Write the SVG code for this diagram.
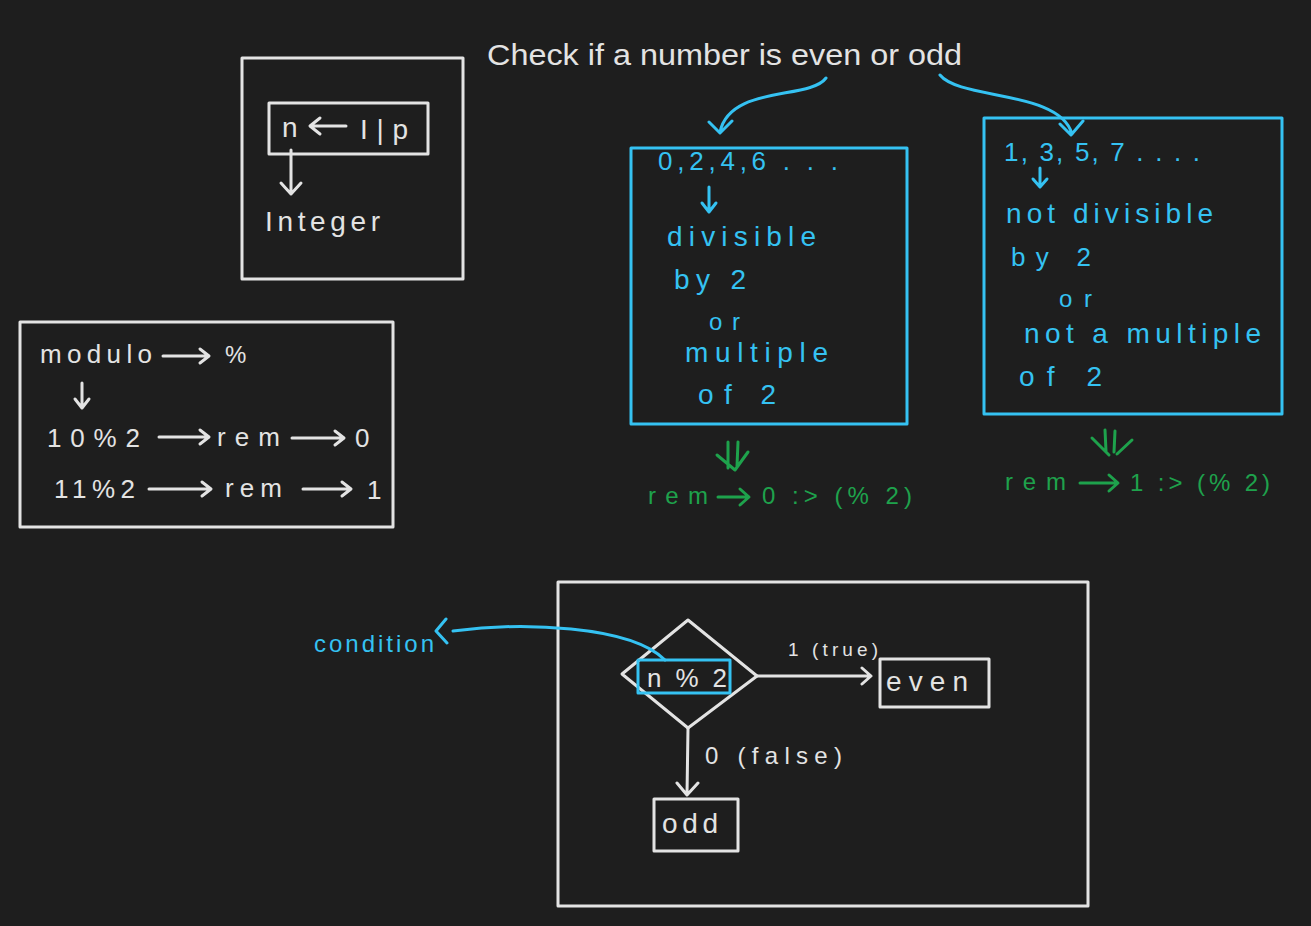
<svg xmlns="http://www.w3.org/2000/svg" width="1311" height="926" viewBox="0 0 1311 926">
<defs>
<style>
.w{fill:none;stroke:#e3e3e3;stroke-width:3;stroke-linecap:round;stroke-linejoin:round}
.b{fill:none;stroke:#35c2f2;stroke-width:3;stroke-linecap:round;stroke-linejoin:round}
.g{fill:none;stroke:#1ea24c;stroke-width:3;stroke-linecap:round;stroke-linejoin:round}
.tw{fill:#e3e3e3;font-family:"Liberation Sans",sans-serif}
.tb{fill:#35c2f2;font-family:"Liberation Sans",sans-serif}
.tg{fill:#1ea24c;font-family:"Liberation Sans",sans-serif}
</style>
</defs>
<rect width="1311" height="926" fill="#1e1e1e"/>

<text class="tw" x="487" y="65" font-size="30" textLength="475" lengthAdjust="spacingAndGlyphs">Check if a number is even or odd</text>

<g id="input-box">
<rect class="w" x="242" y="58" width="221" height="221"/>
<rect class="w" x="269" y="103" width="159" height="51"/>
<text class="tw" x="282" y="137" font-size="28">n</text>
<path class="w" d="M346,126 L311,126 M320,118 L310,126 L320,134"/>
<text class="tw" x="360" y="139" font-size="28" textLength="48">I|p</text>
<path class="w" d="M291,150 L291,194 M281,183 L291,194 L301,183"/>
<text class="tw" x="265" y="231" font-size="28" textLength="115">Integer</text>
</g>

<g id="modulo-box">
<rect class="w" x="20" y="322" width="373" height="205"/>
<text class="tw" x="40" y="363" font-size="26" textLength="112">modulo</text>
<path class="w" d="M163,356 L208,356 M200,349 L209,356 L200,363"/>
<text class="tw" x="225" y="363" font-size="24">%</text>
<path class="w" d="M82,383 L82,407 M75,399 L82,408 L89,399"/>
<text class="tw" x="47" y="447" font-size="26" textLength="93">10%2</text>
<path class="w" d="M159,437 L208,437 M200,430 L209,437 L200,444"/>
<text class="tw" x="217" y="446" font-size="26" textLength="63">rem</text>
<path class="w" d="M292,438 L343,438 M335,431 L344,438 L335,445"/>
<text class="tw" x="355" y="447" font-size="26">0</text>
<text class="tw" x="54" y="498" font-size="26" textLength="81">11%2</text>
<path class="w" d="M149,489 L210,489 M202,482 L211,489 L202,496"/>
<text class="tw" x="225" y="497" font-size="26" textLength="57">rem</text>
<path class="w" d="M303,489 L350,489 M342,482 L351,489 L342,496"/>
<text class="tw" x="367" y="499" font-size="26">1</text>
</g>

<g id="even-box">
<rect class="b" x="631" y="148" width="276" height="276"/>
<text class="tb" x="658" y="170" font-size="26" textLength="180">0,2,4,6 . . .</text>
<path class="b" d="M709,187 L709,211 M702,203 L709,212 L716,203"/>
<text class="tb" x="667" y="246" font-size="28" textLength="149">divisible</text>
<text class="tb" x="674" y="289" font-size="28" textLength="72">by  2</text>
<text class="tb" x="709" y="330" font-size="24" textLength="31">or</text>
<text class="tb" x="685" y="362" font-size="28" textLength="143">multiple</text>
<text class="tb" x="698" y="404" font-size="28" textLength="78">of  2</text>
</g>

<g id="odd-info-box">
<rect class="b" x="984" y="118" width="298" height="296"/>
<text class="tb" x="1004" y="161" font-size="26" textLength="196">1, 3, 5, 7 . . . .</text>
<path class="b" d="M1040,168 L1040,186 M1033,179 L1040,187 L1047,179"/>
<text class="tb" x="1006" y="223" font-size="28" textLength="207">not divisible</text>
<text class="tb" x="1011" y="266" font-size="26" textLength="80">by  2</text>
<text class="tb" x="1059" y="307" font-size="24" textLength="33">or</text>
<text class="tb" x="1024" y="343" font-size="28" textLength="237">not a multiple</text>
<text class="tb" x="1019" y="386" font-size="28" textLength="83">of  2</text>
</g>

<g id="even-result">
<text class="tg" x="648" y="504" font-size="24" textLength="60">rem</text>
<path class="g" d="M718,497 L748,497 M740,489 L749,497 L740,505"/>
<text class="tg" x="762" y="504" font-size="24" textLength="150">0 :&gt; (% 2)</text>
</g>

<g id="odd-result">
<text class="tg" x="1005" y="490" font-size="24" textLength="61">rem</text>
<path class="g" d="M1080,483 L1117,483 M1109,475 L1118,483 L1109,491"/>
<text class="tg" x="1130" y="491" font-size="24" textLength="140">1 :&gt; (% 2)</text>
</g>

<g id="flow-box">
<rect class="w" x="558" y="582" width="530" height="324"/>
</g>

<g id="condition">
<path class="w" d="M688,620 L757,676 L688,728 L622,674 Z"/>
<rect class="b" x="638" y="660" width="92" height="33"/>
<text class="tw" x="647" y="687" font-size="26" textLength="80">n%2</text>
</g>

<g id="even">
<rect class="w" x="880" y="659" width="109" height="48"/>
<text class="tw" x="886" y="691" font-size="28" textLength="82">even</text>
</g>

<g id="odd">
<rect class="w" x="654" y="799" width="84" height="52"/>
<text class="tw" x="662" y="833" font-size="28" textLength="56">odd</text>
</g>

<text class="tb" x="314" y="652" font-size="24" textLength="120">condition</text>

<g id="connectors">
<path class="b" d="M826,78 C 810,100 730,85 720,132 M709,122 L720,133 L732,121"/>
<path class="b" d="M940,75 C 960,100 1060,90 1072,134 M1060,124 L1071,135 L1083,121"/>
<path class="g" d="M728,442 L728,468 M738,442 L737,466 M717,455 L735,470 L748,452"/>
<path class="g" d="M1105,430 L1106,451 M1115,431 L1114,452 M1092,438 L1109,455 M1117,454 L1132,440"/>
<path class="b" d="M665,660 C 630,625 520,622 453,631 M446,619 L436,631 L447,643"/>
<path class="w" d="M757,676 L870,676 M862,668 L871,676 L862,684"/>
<text class="tw" x="788" y="656" font-size="19" textLength="90">1 (true)</text>
<path class="w" d="M688,728 L687,795 M677,783 L687,795 L698,783"/>
<text class="tw" x="705" y="764" font-size="24" textLength="137">0 (false)</text>
</g>
</svg>
